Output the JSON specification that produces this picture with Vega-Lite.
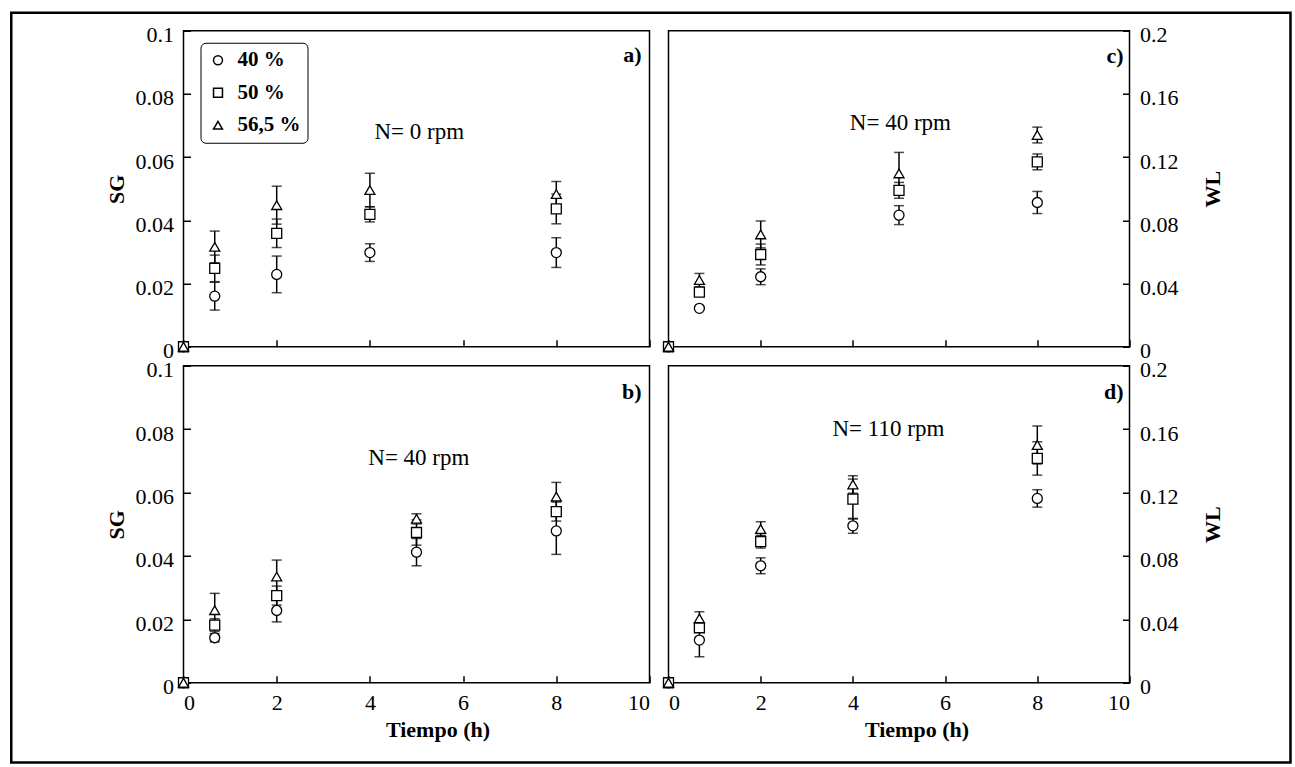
{
  "$schema": "https://vega.github.io/schema/vega-lite/v6.json",
  "background": "white",
  "autosize": {"type": "pad"},
  "padding": {"left": 8.5, "top": 9.75, "right": 0, "bottom": 0},
  "datasets": {
    "a": [
      {"t": 0, "v": 0, "err": 0, "s": "40 %"},
      {"t": 0.67, "v": 0.0160, "err": 0.0044, "s": "40 %"},
      {"t": 2, "v": 0.0229, "err": 0.0058, "s": "40 %"},
      {"t": 4, "v": 0.0298, "err": 0.0028, "s": "40 %"},
      {"t": 8, "v": 0.0298, "err": 0.0047, "s": "40 %"},
      {"t": 0, "v": 0, "err": 0, "s": "50 %"},
      {"t": 0.67, "v": 0.0248, "err": 0.0042, "s": "50 %"},
      {"t": 2, "v": 0.0359, "err": 0.0045, "s": "50 %"},
      {"t": 4, "v": 0.0419, "err": 0.0024, "s": "50 %"},
      {"t": 8, "v": 0.0436, "err": 0.0047, "s": "50 %"},
      {"t": 0, "v": 0, "err": 0, "s": "56,5 %"},
      {"t": 0.67, "v": 0.0316, "err": 0.0050, "s": "56,5 %"},
      {"t": 2, "v": 0.0448, "err": 0.0060, "s": "56,5 %"},
      {"t": 4, "v": 0.0496, "err": 0.0053, "s": "56,5 %"},
      {"t": 8, "v": 0.0483, "err": 0.0040, "s": "56,5 %"}
    ],
    "b": [
      {"t": 0, "v": 0, "err": 0, "s": "40 %"},
      {"t": 0.67, "v": 0.0142, "err": 0.0013, "s": "40 %"},
      {"t": 2, "v": 0.0228, "err": 0.0036, "s": "40 %"},
      {"t": 5, "v": 0.0412, "err": 0.0043, "s": "40 %"},
      {"t": 8, "v": 0.0479, "err": 0.0074, "s": "40 %"},
      {"t": 0, "v": 0, "err": 0, "s": "50 %"},
      {"t": 0.67, "v": 0.0182, "err": 0.0020, "s": "50 %"},
      {"t": 2, "v": 0.0275, "err": 0.0030, "s": "50 %"},
      {"t": 5, "v": 0.0474, "err": 0.0040, "s": "50 %"},
      {"t": 8, "v": 0.0540, "err": 0.0030, "s": "50 %"},
      {"t": 0, "v": 0, "err": 0, "s": "56,5 %"},
      {"t": 0.67, "v": 0.0229, "err": 0.0053, "s": "56,5 %"},
      {"t": 2, "v": 0.0335, "err": 0.0052, "s": "56,5 %"},
      {"t": 5, "v": 0.0517, "err": 0.0016, "s": "56,5 %"},
      {"t": 8, "v": 0.0587, "err": 0.0045, "s": "56,5 %"}
    ],
    "c": [
      {"t": 0, "v": 0, "err": 0, "s": "40 %"},
      {"t": 0.67, "v": 0.0243, "err": 0.001, "s": "40 %"},
      {"t": 2, "v": 0.0443, "err": 0.005, "s": "40 %"},
      {"t": 5, "v": 0.0833, "err": 0.006, "s": "40 %"},
      {"t": 8, "v": 0.0913, "err": 0.007, "s": "40 %"},
      {"t": 0, "v": 0, "err": 0, "s": "50 %"},
      {"t": 0.67, "v": 0.0346, "err": 0.002, "s": "50 %"},
      {"t": 2, "v": 0.0584, "err": 0.0066, "s": "50 %"},
      {"t": 5, "v": 0.0990, "err": 0.005, "s": "50 %"},
      {"t": 8, "v": 0.1170, "err": 0.005, "s": "50 %"},
      {"t": 0, "v": 0, "err": 0, "s": "56,5 %"},
      {"t": 0.67, "v": 0.0422, "err": 0.0042, "s": "56,5 %"},
      {"t": 2, "v": 0.0711, "err": 0.0085, "s": "56,5 %"},
      {"t": 5, "v": 0.1097, "err": 0.0133, "s": "56,5 %"},
      {"t": 8, "v": 0.1340, "err": 0.005, "s": "56,5 %"}
    ],
    "d": [
      {"t": 0, "v": 0, "err": 0, "s": "40 %"},
      {"t": 0.67, "v": 0.0269, "err": 0.0105, "s": "40 %"},
      {"t": 2, "v": 0.0738, "err": 0.005, "s": "40 %"},
      {"t": 4, "v": 0.0990, "err": 0.0047, "s": "40 %"},
      {"t": 8, "v": 0.1163, "err": 0.0055, "s": "40 %"},
      {"t": 0, "v": 0, "err": 0, "s": "50 %"},
      {"t": 0.67, "v": 0.0347, "err": 0.002, "s": "50 %"},
      {"t": 2, "v": 0.0890, "err": 0.004, "s": "50 %"},
      {"t": 4, "v": 0.1159, "err": 0.0126, "s": "50 %"},
      {"t": 8, "v": 0.1415, "err": 0.0105, "s": "50 %"},
      {"t": 0, "v": 0, "err": 0, "s": "56,5 %"},
      {"t": 0.67, "v": 0.0406, "err": 0.0042, "s": "56,5 %"},
      {"t": 2, "v": 0.0970, "err": 0.0046, "s": "56,5 %"},
      {"t": 4, "v": 0.1251, "err": 0.0055, "s": "56,5 %"},
      {"t": 8, "v": 0.1500, "err": 0.012, "s": "56,5 %"}
    ]
  },
  "columns": 2,
  "spacing": {"row": 19, "column": 19},
  "bounds": "flush",
  "resolve": {
    "scale": {"x": "independent", "y": "independent", "shape": "independent"},
    "legend": {"shape": "independent"}
  },
  "concat": [
    {
      "width": 466, "height": 316,
      "data": {"name": "a"},
      "encoding": {
        "x": {"field": "t", "type": "quantitative", "scale": {"domain": [0, 10], "nice": false},
              "axis": {"values": [0, 2, 4, 6, 8, 10], "labels": false, "title": null}},
        "y": {"field": "v", "type": "quantitative", "scale": {"domain": [0, 0.1], "nice": false},
              "axis": {"values": [0, 0.02, 0.04, 0.06, 0.08, 0.1], "format": ".2~f", "title": "SG", "orient": "left", "titleX": -67, "titleBaseline": "middle"}}
      },
      "layer": [
        {"transform": [{"filter": "datum.t == 0 && datum.s == '40 %'"}],
         "mark": {"type": "rect", "filled": false, "stroke": "black", "strokeWidth": 2.5},
         "encoding": {"x": {"datum": -3.696}, "x2": {"datum": 23.755}, "y": {"datum": 0.1057}, "y2": {"datum": -0.1316}}},
        {"mark": {"type": "errorbar", "ticks": {"size": 10}, "color": "black", "thickness": 1.5},
         "encoding": {"yError": {"field": "err"}}},
        {"mark": {"type": "point", "filled": true, "fill": "white", "stroke": "black", "strokeWidth": 1.3, "size": 100, "opacity": 1},
         "encoding": {"shape": {"field": "s", "type": "nominal",
           "scale": {"domain": ["40 %", "50 %", "56,5 %"], "range": ["circle", "square", "triangle-up"]},
           "legend": {"orient": "none", "legendX": 17, "legendY": 12, "title": null, "labelFont": "Liberation Serif", "labelFontSize": 21, "labelFontWeight": "bold", "labelColor": "black", "symbolSize": 80, "strokeColor": "black", "fillColor": "white", "cornerRadius": 5, "padding": 7, "rowPadding": 10.5, "labelOffset": 9, "symbolOffset": 0,
             "encode": {"symbols": {"update": {"fill": {"value": "white"}, "stroke": {"value": "black"}, "strokeWidth": {"value": 1.2}, "opacity": {"value": 1}}}}}}}},
        {"transform": [{"filter": "datum.t == 0 && datum.s == '40 %'"}],
         "mark": {"type": "text", "text": "N= 0 rpm", "font": "Liberation Serif", "fontSize": 23, "fill": "black"},
         "encoding": {"x": {"datum": 5.06}, "y": {"datum": 0.068}}},
        {"transform": [{"filter": "datum.t == 0 && datum.s == '40 %'"}],
         "mark": {"type": "text", "text": "a)", "font": "Liberation Serif", "fontSize": 22, "fontWeight": "bold", "align": "right", "fill": "black"},
         "encoding": {"x": {"datum": 9.83}, "y": {"datum": 0.0924}}}
      ]
    },
    {
      "width": 461, "height": 316,
      "data": {"name": "c"},
      "encoding": {
        "x": {"field": "t", "type": "quantitative", "scale": {"domain": [0, 10], "nice": false},
              "axis": {"values": [0, 2, 4, 6, 8, 10], "labels": false, "title": null}},
        "y": {"field": "v", "type": "quantitative", "scale": {"domain": [0, 0.2], "nice": false},
              "axis": {"values": [0, 0.04, 0.08, 0.12, 0.16, 0.2], "format": ".2~f", "title": "WL", "orient": "right", "titleAngle": 270, "titleX": 83, "titleBaseline": "middle"}}
      },
      "layer": [
        {"mark": {"type": "errorbar", "ticks": {"size": 10}, "color": "black", "thickness": 1.5},
         "encoding": {"yError": {"field": "err"}}},
        {"mark": {"type": "point", "filled": true, "fill": "white", "stroke": "black", "strokeWidth": 1.3, "size": 100, "opacity": 1},
         "encoding": {"shape": {"field": "s", "type": "nominal",
           "scale": {"domain": ["40 %", "50 %", "56,5 %"], "range": ["circle", "square", "triangle-up"]}, "legend": null}}},
        {"transform": [{"filter": "datum.t == 0 && datum.s == '40 %'"}],
         "mark": {"type": "text", "text": "N= 40 rpm", "font": "Liberation Serif", "fontSize": 23, "fill": "black"},
         "encoding": {"x": {"datum": 5.03}, "y": {"datum": 0.1413}}},
        {"transform": [{"filter": "datum.t == 0 && datum.s == '40 %'"}],
         "mark": {"type": "text", "text": "c)", "font": "Liberation Serif", "fontSize": 22, "fontWeight": "bold", "align": "right", "fill": "black"},
         "encoding": {"x": {"datum": 9.87}, "y": {"datum": 0.184}}}
      ]
    },
    {
      "width": 466, "height": 317,
      "data": {"name": "b"},
      "encoding": {
        "x": {"field": "t", "type": "quantitative", "scale": {"domain": [0, 10], "nice": false},
              "axis": {"values": [0, 2, 4, 6, 8, 10], "title": "Tiempo (h)", "titleX": 254}},
        "y": {"field": "v", "type": "quantitative", "scale": {"domain": [0, 0.1], "nice": false},
              "axis": {"values": [0, 0.02, 0.04, 0.06, 0.08, 0.1], "format": ".2~f", "title": "SG", "orient": "left", "titleX": -67, "titleBaseline": "middle"}}
      },
      "layer": [
        {"mark": {"type": "errorbar", "ticks": {"size": 10}, "color": "black", "thickness": 1.5},
         "encoding": {"yError": {"field": "err"}}},
        {"mark": {"type": "point", "filled": true, "fill": "white", "stroke": "black", "strokeWidth": 1.3, "size": 100, "opacity": 1},
         "encoding": {"shape": {"field": "s", "type": "nominal",
           "scale": {"domain": ["40 %", "50 %", "56,5 %"], "range": ["circle", "square", "triangle-up"]}, "legend": null}}},
        {"transform": [{"filter": "datum.t == 0 && datum.s == '40 %'"}],
         "mark": {"type": "text", "text": "N= 40 rpm", "font": "Liberation Serif", "fontSize": 23, "fill": "black"},
         "encoding": {"x": {"datum": 5.05}, "y": {"datum": 0.0708}}},
        {"transform": [{"filter": "datum.t == 0 && datum.s == '40 %'"}],
         "mark": {"type": "text", "text": "b)", "font": "Liberation Serif", "fontSize": 22, "fontWeight": "bold", "align": "right", "fill": "black"},
         "encoding": {"x": {"datum": 9.83}, "y": {"datum": 0.0918}}}
      ]
    },
    {
      "width": 461, "height": 317,
      "data": {"name": "d"},
      "encoding": {
        "x": {"field": "t", "type": "quantitative", "scale": {"domain": [0, 10], "nice": false},
              "axis": {"values": [0, 2, 4, 6, 8, 10], "title": "Tiempo (h)", "titleX": 248}},
        "y": {"field": "v", "type": "quantitative", "scale": {"domain": [0, 0.2], "nice": false},
              "axis": {"values": [0, 0.04, 0.08, 0.12, 0.16, 0.2], "format": ".2~f", "title": "WL", "orient": "right", "titleAngle": 270, "titleX": 83, "titleBaseline": "middle"}}
      },
      "layer": [
        {"mark": {"type": "errorbar", "ticks": {"size": 10}, "color": "black", "thickness": 1.5},
         "encoding": {"yError": {"field": "err"}}},
        {"mark": {"type": "point", "filled": true, "fill": "white", "stroke": "black", "strokeWidth": 1.3, "size": 100, "opacity": 1},
         "encoding": {"shape": {"field": "s", "type": "nominal",
           "scale": {"domain": ["40 %", "50 %", "56,5 %"], "range": ["circle", "square", "triangle-up"]}, "legend": null}}},
        {"transform": [{"filter": "datum.t == 0 && datum.s == '40 %'"}],
         "mark": {"type": "text", "text": "N= 110 rpm", "font": "Liberation Serif", "fontSize": 23, "fill": "black"},
         "encoding": {"x": {"datum": 4.77}, "y": {"datum": 0.1604}}},
        {"transform": [{"filter": "datum.t == 0 && datum.s == '40 %'"}],
         "mark": {"type": "text", "text": "d)", "font": "Liberation Serif", "fontSize": 22, "fontWeight": "bold", "align": "right", "fill": "black"},
         "encoding": {"x": {"datum": 9.87}, "y": {"datum": 0.1836}}}
      ]
    }
  ],
  "config": {
    "view": {"stroke": "black", "strokeWidth": 1.5},
    "axis": {
      "grid": false, "domain": false,
      "labelFont": "Liberation Serif", "labelFontSize": 22, "labelColor": "black",
      "titleFont": "Liberation Serif", "titleFontSize": 22, "titleFontWeight": "bold", "titleColor": "black",
      "tickColor": "black", "tickWidth": 1.5, "tickSize": -7, "labelPadding": 17, "titlePadding": 6
    },
    "axisY": {"labelOffset": 4}
  }
}
